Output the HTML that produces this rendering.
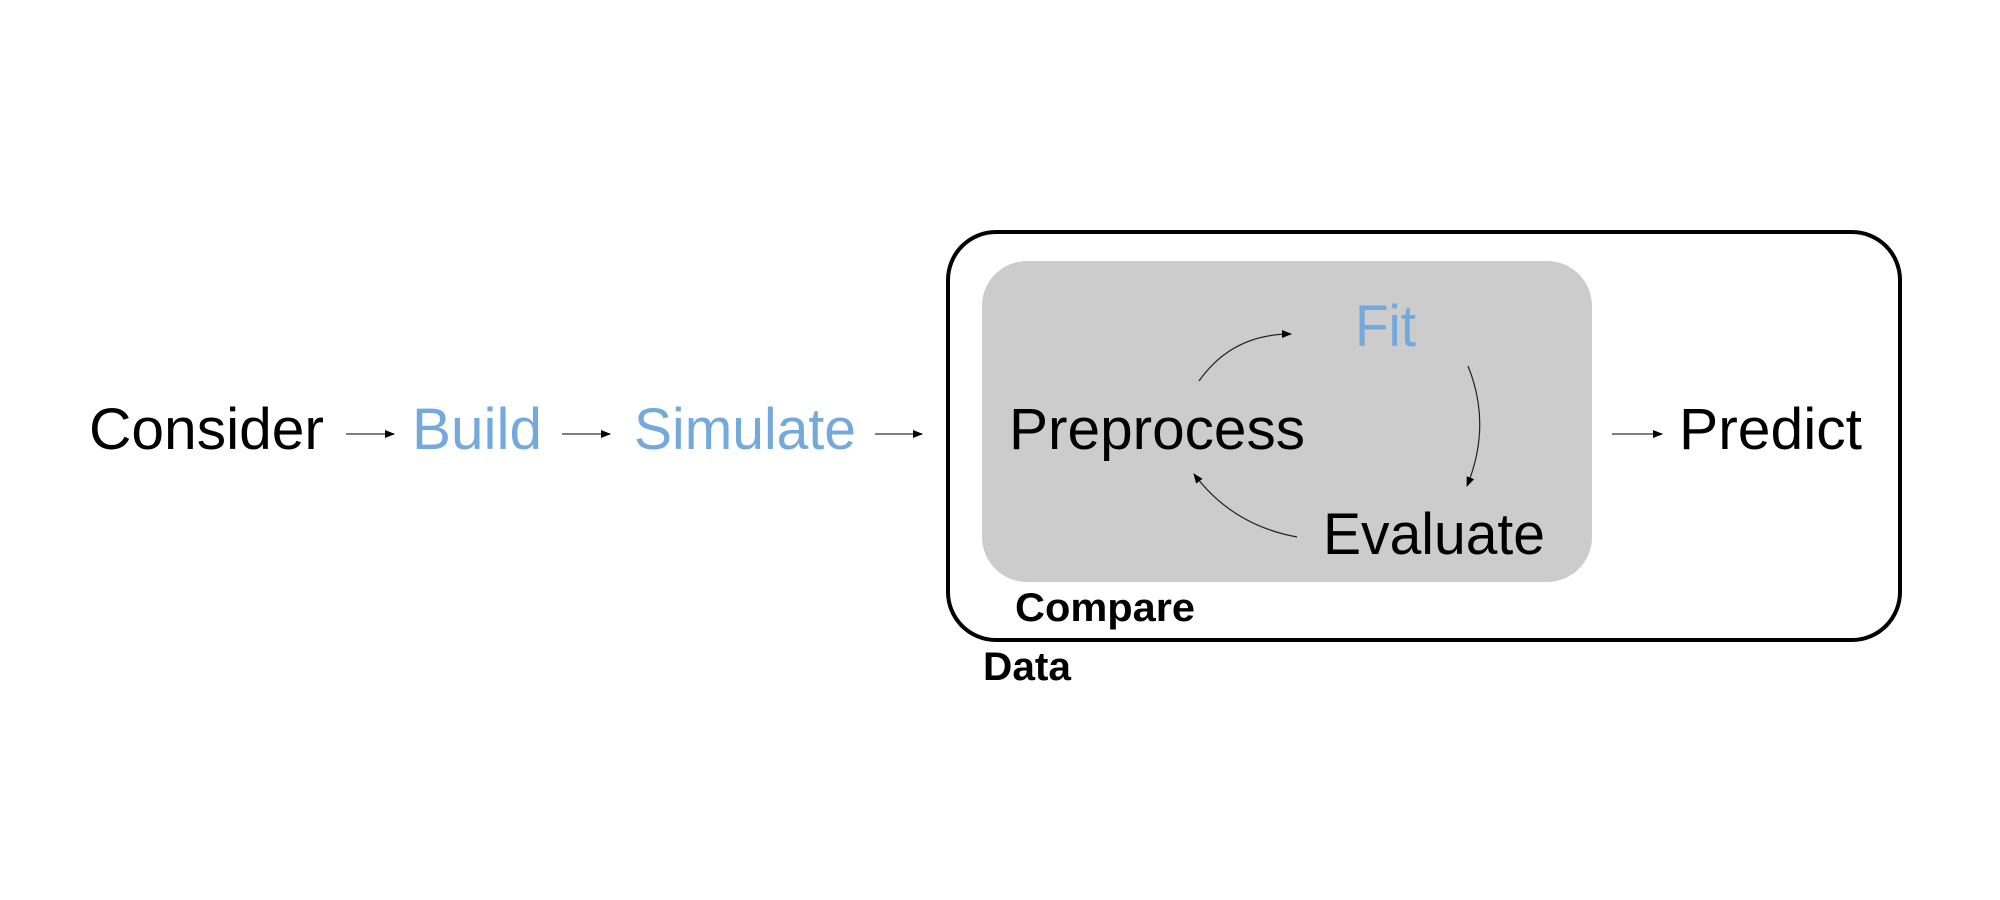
<!DOCTYPE html>
<html><head><meta charset="utf-8"><style>html,body{margin:0;padding:0;background:#fff}svg{display:block}</style></head>
<body>
<svg width="2000" height="900" viewBox="0 0 2000 900" xmlns="http://www.w3.org/2000/svg" font-family="'Liberation Sans', sans-serif">
<defs>
<marker id="a" viewBox="0 0 10 10" refX="9" refY="5" markerWidth="10" markerHeight="10" markerUnits="userSpaceOnUse" orient="auto"><path d="M0,1 L10,5 L0,9 z" fill="#000"/></marker>
</defs>
<rect x="948" y="232" width="952" height="408" rx="48" fill="#fff" stroke="#000" stroke-width="4"/>
<rect x="982" y="261" width="610" height="321" rx="45" fill="#cccccc"/>
<g font-size="58" fill="#000">
<text x="89" y="449" textLength="235" lengthAdjust="spacingAndGlyphs">Consider</text>
<text x="412" y="449" textLength="130" lengthAdjust="spacingAndGlyphs" fill="#74a9dc">Build</text>
<text x="634" y="449" textLength="222" lengthAdjust="spacingAndGlyphs" fill="#74a9dc">Simulate</text>
<text x="1009" y="449" textLength="296" lengthAdjust="spacingAndGlyphs">Preprocess</text>
<text x="1355" y="346" textLength="61" lengthAdjust="spacingAndGlyphs" fill="#74a9dc">Fit</text>
<text x="1323" y="554" textLength="222" lengthAdjust="spacingAndGlyphs">Evaluate</text>
<text x="1679" y="449" textLength="183" lengthAdjust="spacingAndGlyphs">Predict</text>
</g>
<text x="1015" y="621" font-size="40" font-weight="bold" textLength="180" lengthAdjust="spacingAndGlyphs">Compare</text>
<text x="983" y="680" font-size="40" font-weight="bold" textLength="88" lengthAdjust="spacingAndGlyphs">Data</text>
<g stroke="#555" stroke-width="1.6" fill="none" marker-end="url(#a)">
<line x1="346" y1="434" x2="394" y2="434"/>
<line x1="562" y1="434" x2="610" y2="434"/>
<line x1="875" y1="434" x2="922" y2="434"/>
<line x1="1612" y1="434" x2="1662" y2="434"/>
</g>
<g stroke="#222" stroke-width="1.2" fill="none" marker-end="url(#a)">
<path d="M1199,381 Q1232,334 1291,334"/>
<path d="M1468,366 Q1492,425 1467,486"/>
<path d="M1297,537 Q1232,525 1194,474"/>
</g>
</svg>
</body></html>
